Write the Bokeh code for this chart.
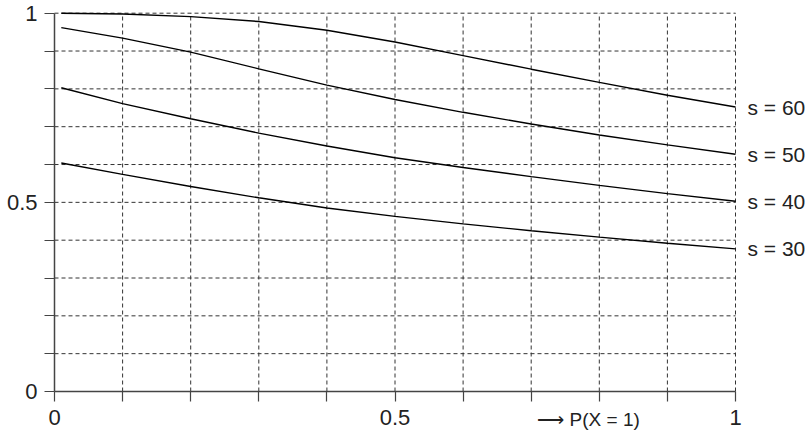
from bokeh.plotting import figure
from bokeh.models import FixedTicker, Range1d, ColumnDataSource, LabelSet, Label, LinearAxis
from bokeh.core.properties import value
from bokeh.embed import file_html
from bokeh.resources import INLINE

# data
x_vals = [0.01, 0.1, 0.2, 0.3, 0.4, 0.5, 0.6, 0.7, 0.8, 0.9, 1.0]
s60 = [1.0, 0.998, 0.991, 0.978, 0.955, 0.924, 0.888, 0.852, 0.817, 0.783, 0.752]
s50 = [0.962, 0.934, 0.897, 0.853, 0.810, 0.772, 0.738, 0.707, 0.678, 0.652, 0.627]
s40 = [0.803, 0.761, 0.721, 0.683, 0.649, 0.618, 0.592, 0.568, 0.545, 0.523, 0.503]
s30 = [0.604, 0.574, 0.542, 0.512, 0.485, 0.463, 0.443, 0.425, 0.408, 0.392, 0.377]
series_names = ["s = 60", "s = 50", "s = 40", "s = 30"]
series = [s60, s50, s40, s30]
tick_vals = [round(i * 0.1, 1) for i in range(11)]
tick_labels = {0.0: "0", 0.5: "0.5", 1.0: "1"}
x_title = "\u27f6 P(X = 1)"
x_title_pos = 0.709

FONT = "Liberation Sans"
W, H = 809, 435
# pixel placement of the data frame inside the canvas
LEFT, RIGHT, TOP, BOTTOM = 54, 735, 12.7, 391
sx = (RIGHT - LEFT)
sy = (BOTTOM - TOP)
xr = Range1d(-LEFT / sx, 1 + (W - RIGHT) / sx)
yr = Range1d(-(H - BOTTOM) / sy, 1 + TOP / sy)

p = figure(width=W, height=H, output_backend="svg", toolbar_location=None,
           x_range=xr, y_range=yr, x_axis_type=None, y_axis_type=None,
           min_border_left=0, min_border_right=0, min_border_top=0, min_border_bottom=0)
p.outline_line_color = None
p.background_fill_color = "white"
p.border_fill_color = "white"

# dashed grid inside the unit square
gt = tick_vals[1:]
p.segment(x0=gt, y0=[0] * len(gt), x1=gt, y1=[1] * len(gt),
          line_color="#333333", line_width=1, line_dash="4 3")
p.segment(x0=[0] * len(gt), y0=gt, x1=[1] * len(gt), y1=gt,
          line_color="#333333", line_width=1, line_dash="4 3")

xaxis = LinearAxis(fixed_location=0, bounds=(0, 1))
yaxis = LinearAxis(fixed_location=0, bounds=(0, 1))
for ax in (xaxis, yaxis):
    ax.ticker = FixedTicker(ticks=tick_vals)
    ax.major_label_overrides = {t: tick_labels.get(t, "") for t in tick_vals}
    ax.major_tick_out = 10
    ax.major_tick_in = 0
    ax.minor_tick_out = 0
    ax.minor_tick_in = 0
    ax.axis_line_color = "#444444"
    ax.axis_line_width = 1.5
    ax.major_tick_line_color = "#444444"
    ax.major_tick_line_width = 1.2
    ax.major_label_text_font = FONT
    ax.major_label_text_font_size = "22px"
    ax.major_label_text_color = "#222222"
xaxis.major_label_standoff = 8
yaxis.major_label_standoff = 7
p.add_layout(xaxis, "below")
p.add_layout(yaxis, "left")

for ys in series:
    p.line(x_vals, ys, line_color="black", line_width=1.4)

lab_src = ColumnDataSource(dict(x=[x_vals[-1]] * len(series),
                                y=[ys[-1] for ys in series],
                                t=series_names))
p.add_layout(LabelSet(x="x", y="y", text="t", source=lab_src, x_offset=12,
                      text_baseline="middle", text_align="left",
                      text_font=value(FONT), text_font_size=value("21px"),
                      text_color="#222222"))

p.add_layout(Label(x=x_title_pos, y=0, y_offset=-28, text=x_title,
                   text_baseline="middle", text_align="left",
                   text_font=FONT, text_font_size="19px", text_color="#222222"))

open("out.html", "w").write(file_html(p, INLINE))
